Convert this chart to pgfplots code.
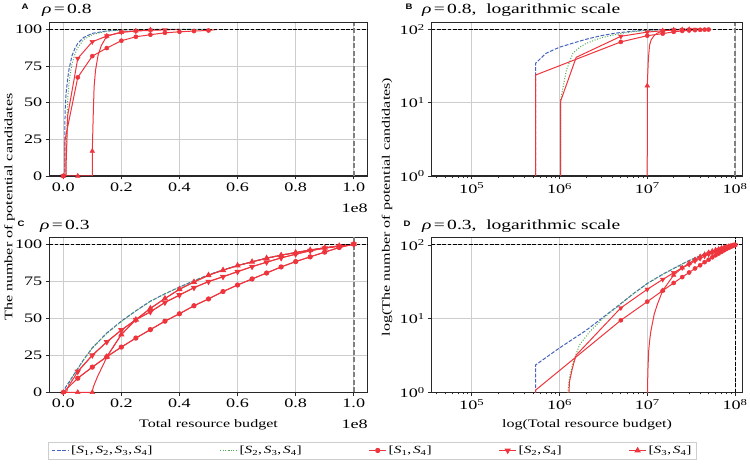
\documentclass[border=0pt]{standalone}
\usepackage{fontspec}
\setmainfont{Liberation Serif}[FakeStretch=1.4]
\newfontfamily\panelfont{Liberation Sans}[FakeStretch=1.2]
\usepackage{pgfplots}
\usepackage{pgfplotstable}
\pgfplotsset{compat=1.18}
\definecolor{cblue}{RGB}{70,100,190}
\definecolor{cgreen}{RGB}{80,170,80}
\definecolor{cred}{RGB}{238,52,60}
\definecolor{cframe}{RGB}{40,40,40}
\definecolor{cgrid}{RGB}{205,205,205}
\definecolor{cvline}{RGB}{128,128,128}
\newcommand\tickfont{\fontsize{13}{13}\selectfont}
\newcommand\labfont{\fontsize{11.5}{11.5}\selectfont}
\newcommand\titfont{\fontsize{14}{14}\selectfont}
\newcommand\legfont{\fontsize{11}{11}\selectfont}

% ================= rho = 0.8 : lines (linear panel) =================
\pgfplotstableread{
x y
0 0
5.34e5 0
5.34e5 34.4
7e5 47
1e6 57
1.5e6 66
2e6 73
3e6 82
4e6 87
5e6 90.5
7e6 94.5
1e7 97.3
1.5e7 99
2e7 99.7
3e7 100
5e7 100
}\EBlue
\pgfplotstableread{
x y
0 0
1.03e6 0
1.03e6 10.9
1.2e6 28
1.42e6 47
1.7e6 57
2e6 64
2.5e6 71
3e6 76.5
4e6 83
5e6 87.5
7e6 93
1e7 96.5
1.5e7 98.8
2e7 99.6
3e7 100
5e7 100
}\EGreen
\pgfplotstableread{
x y
0 0
5.34e5 0
5.34e5 23.8
5e6 67.3
1e7 81.8
1.5e7 87.3
2e7 92.3
2.5e7 95
3e7 96.4
3.5e7 97.7
4e7 98.4
4.5e7 98.9
5e7 99.3
5.3e7 100
}\ESa
\pgfplotstableread{
x y
0 0
1.03e6 0
1.03e6 10.5
1.55e6 41.5
5e6 80.2
1e7 91.6
1.5e7 95.5
2e7 98.2
2.5e7 98.9
3e7 99.4
3.5e7 99.7
4e7 100
}\ESb
\pgfplotstableread{
x y
0 0
5e6 0
9.99e6 0
1e7 17
1.03e7 40
1.063e7 61
1.11e7 72
1.2e7 82.5
1.31e7 89
1.5e7 95.5
2e7 98
2.5e7 99
3e7 99.8
3.5e7 100
}\ESc
% ---- rho = 0.8 : lines (log panel; values below the axis drawn at 0.5) ----
\pgfplotstableread{
x y
5.34e5 0.5
5.34e5 34.4
7e5 47
1e6 57
1.5e6 66
2e6 73
3e6 82
4e6 87
5e6 90.5
7e6 94.5
1e7 97.3
1.5e7 99
2e7 99.7
3e7 100
5e7 100
}\EBlueL
\pgfplotstableread{
x y
1.03e6 0.5
1.03e6 10.9
1.2e6 28
1.42e6 47
1.7e6 57
2e6 64
2.5e6 71
3e6 76.5
4e6 83
5e6 87.5
7e6 93
1e7 96.5
1.5e7 98.8
2e7 99.6
3e7 100
5e7 100
}\EGreenL
\pgfplotstableread{
x y
5.34e5 0.5
5.34e5 23.8
5e6 67.3
1e7 81.8
1.5e7 87.3
2e7 92.3
2.5e7 95
3e7 96.4
3.5e7 97.7
4e7 98.4
4.5e7 98.9
5e7 99.3
5.3e7 100
}\ESaL
\pgfplotstableread{
x y
1.03e6 0.5
1.03e6 10.5
1.55e6 41.5
5e6 80.2
1e7 91.6
1.5e7 95.5
2e7 98.2
2.5e7 98.9
3e7 99.4
3.5e7 99.7
4e7 100
}\ESbL
\pgfplotstableread{
x y
9.99e6 0.5
1e7 17
1.03e7 40
1.063e7 61
1.11e7 72
1.2e7 82.5
1.31e7 89
1.5e7 95.5
2e7 98
2.5e7 99
3e7 99.8
3.5e7 100
}\EScL
% ---- rho = 0.8 : markers (non-zero) ----
\pgfplotstableread{
x y
5e6 67.3
1e7 81.8
1.5e7 87.3
2e7 92.3
2.5e7 95
3e7 96.4
3.5e7 97.7
4e7 98.4
4.5e7 98.9
5e7 99.3
}\ESam
\pgfplotstableread{
x y
5e6 80.2
1e7 91.6
1.5e7 95.5
2e7 98.2
2.5e7 98.9
3e7 99.4
3.5e7 99.7
}\ESbm
\pgfplotstableread{
x y
1e7 17
1.5e7 95.5
2e7 98
2.5e7 99
3e7 99.8
}\EScm

% ================= rho = 0.3 : lines (linear panel) =================
\pgfplotstableread{
x y
0 0
5.34e5 0
5.34e5 2.35
1e6 4
2e6 6.9
3e6 10
5e6 16
7e6 22
1e7 30
1.5e7 40
2e7 48
2.5e7 55
3e7 61.5
3.5e7 66.5
4e7 71
4.5e7 75.3
5e7 79.3
5.5e7 82.6
6e7 85.6
6.5e7 88.1
7e7 90.6
7.5e7 92.6
8e7 94.4
8.5e7 96
9e7 97.5
9.5e7 98.8
1e8 100
}\TBlue
\pgfplotstableread{
x y
0 0
1.17e6 0
1.3e6 1.6
1.42e6 2.5
1.69e6 4.4
2.2e6 6.6
3.1e6 10
5e6 15.8
7e6 21.8
1e7 29.8
1.5e7 39.8
2e7 47.8
2.5e7 54.9
3e7 61.4
3.5e7 66.4
4e7 70.9
4.5e7 75.2
5e7 79.2
5.5e7 82.5
6e7 85.5
6.5e7 88
7e7 90.5
7.5e7 92.5
8e7 94.3
8.5e7 96
9e7 97.5
9.5e7 98.8
1e8 100
}\TGreen
\pgfplotstableread{
x y
0 0
5.34e5 0
5.34e5 1.07
5e6 9.5
1e7 17
1.5e7 24
2e7 30.5
2.5e7 36.6
3e7 42.3
3.5e7 48
4e7 53
4.5e7 58.4
5e7 63
5.5e7 68
6e7 72.4
6.5e7 76.5
7e7 80.5
7.5e7 84.6
8e7 88.2
8.5e7 91.4
9e7 94.6
9.5e7 97.7
1e8 100
}\TSa
\pgfplotstableread{
x y
0 0
1.245e6 0
1.3e6 1.4
1.4e6 2.1
1.49e6 2.75
1.55e6 3.2
5e6 14
1e7 25
1.5e7 34
2e7 42
2.5e7 49
3e7 54.3
3.5e7 60.6
4e7 65.6
4.5e7 70.6
5e7 74.7
5.5e7 78
6e7 81.4
6.5e7 84.8
7e7 87.8
7.5e7 90.7
8e7 93.2
8.5e7 95.5
9e7 97.3
9.5e7 98.6
1e8 100
}\TSb
\pgfplotstableread{
x y
0 0
5e6 0
1e7 0
1.01e7 1.4
1.02e7 2.2
1.04e7 3.8
1.07e7 5.3
1.1e7 6.8
1.2e7 11.5
1.3e7 15.5
1.4e7 19.5
1.5e7 24
2e7 39
2.5e7 49
3e7 56.6
3.5e7 63.3
4e7 69.5
4.5e7 74.4
5e7 79
5.5e7 82.4
6e7 85.5
6.5e7 88
7e7 90.5
7.5e7 92.5
8e7 94.3
8.5e7 96
9e7 97.5
9.5e7 98.8
1e8 100
}\TSc
% ---- rho = 0.3 : lines (log panel) ----
\pgfplotstableread{
x y
5.34e5 0.5
5.34e5 2.35
1e6 4
2e6 6.9
3e6 10
5e6 16
7e6 22
1e7 30
1.5e7 40
2e7 48
2.5e7 55
3e7 61.5
3.5e7 66.5
4e7 71
4.5e7 75.3
5e7 79.3
5.5e7 82.6
6e7 85.6
6.5e7 88.1
7e7 90.6
7.5e7 92.6
8e7 94.4
8.5e7 96
9e7 97.5
9.5e7 98.8
1e8 100
}\TBlueL
\pgfplotstableread{
x y
1.17e6 0.5
1.3e6 1.6
1.42e6 2.5
1.69e6 4.4
2.2e6 6.6
3.1e6 10
5e6 15.8
7e6 21.8
1e7 29.8
1.5e7 39.8
2e7 47.8
2.5e7 54.9
3e7 61.4
3.5e7 66.4
4e7 70.9
4.5e7 75.2
5e7 79.2
5.5e7 82.5
6e7 85.5
6.5e7 88
7e7 90.5
7.5e7 92.5
8e7 94.3
8.5e7 96
9e7 97.5
9.5e7 98.8
1e8 100
}\TGreenL
\pgfplotstableread{
x y
5.34e5 0.5
5.34e5 1.07
5e6 9.5
1e7 17
1.5e7 24
2e7 30.5
2.5e7 36.6
3e7 42.3
3.5e7 48
4e7 53
4.5e7 58.4
5e7 63
5.5e7 68
6e7 72.4
6.5e7 76.5
7e7 80.5
7.5e7 84.6
8e7 88.2
8.5e7 91.4
9e7 94.6
9.5e7 97.7
1e8 100
}\TSaL
\pgfplotstableread{
x y
1.245e6 0.5
1.3e6 1.4
1.4e6 2.1
1.49e6 2.75
1.55e6 3.2
5e6 14
1e7 25
1.5e7 34
2e7 42
2.5e7 49
3e7 54.3
3.5e7 60.6
4e7 65.6
4.5e7 70.6
5e7 74.7
5.5e7 78
6e7 81.4
6.5e7 84.8
7e7 87.8
7.5e7 90.7
8e7 93.2
8.5e7 95.5
9e7 97.3
9.5e7 98.6
1e8 100
}\TSbL
\pgfplotstableread{
x y
1e7 0.5
1.01e7 1.4
1.02e7 2.2
1.04e7 3.8
1.07e7 5.3
1.1e7 6.8
1.2e7 11.5
1.3e7 15.5
1.4e7 19.5
1.5e7 24
2e7 39
2.5e7 49
3e7 56.6
3.5e7 63.3
4e7 69.5
4.5e7 74.4
5e7 79
5.5e7 82.4
6e7 85.5
6.5e7 88
7e7 90.5
7.5e7 92.5
8e7 94.3
8.5e7 96
9e7 97.5
9.5e7 98.8
1e8 100
}\TScL
% ---- rho = 0.3 : markers (non-zero) ----
\pgfplotstableread{
x y
5e6 9.5
1e7 17
1.5e7 24
2e7 30.5
2.5e7 36.6
3e7 42.3
3.5e7 48
4e7 53
4.5e7 58.4
5e7 63
5.5e7 68
6e7 72.4
6.5e7 76.5
7e7 80.5
7.5e7 84.6
8e7 88.2
8.5e7 91.4
9e7 94.6
9.5e7 97.7
1e8 100
}\TSam
\pgfplotstableread{
x y
5e6 14
1e7 25
1.5e7 34
2e7 42
2.5e7 49
3e7 54.3
3.5e7 60.6
4e7 65.6
4.5e7 70.6
5e7 74.7
5.5e7 78
6e7 81.4
6.5e7 84.8
7e7 87.8
7.5e7 90.7
8e7 93.2
8.5e7 95.5
9e7 97.3
9.5e7 98.6
1e8 100
}\TSbm
\pgfplotstableread{
x y
1.5e7 24
2e7 39
2.5e7 49
3e7 56.6
3.5e7 63.3
4e7 69.5
4.5e7 74.4
5e7 79
5.5e7 82.4
6e7 85.5
6.5e7 88
7e7 90.5
7.5e7 92.5
8e7 94.3
8.5e7 96
9e7 97.5
9.5e7 98.8
1e8 100
}\TScm

\pgfplotsset{
  panel/.style={
    scale only axis, clip=true,
    axis line style={cframe, line width=1.1bp},
    tick align=outside, tick pos=left,
    major tick length=3.5bp, minor tick length=2bp,
    every tick/.style={cframe, line width=0.8bp},
    grid=major, major grid style={cgrid, line width=0.9bp},
    tick label style={font=\tickfont},
    /pgf/number format/assume math mode=true,
  },
  linpanel/.style={panel, xmin=-4.8e6, xmax=1.048e8, ymin=0, ymax=104.6,
    scaled x ticks=false, scaled y ticks=false,
    xtick={0,2e7,4e7,6e7,8e7,1e8}, xticklabels={0.0,0.2,0.4,0.6,0.8,1.0},
    ytick={0,25,50,75,100}, yticklabels={0,25,50,75,100}},
  logpanel/.style={panel, xmin=3.5e4, xmax=1.21e8, ymin=1,
    xtick={1e5,1e6,1e7,1e8},
    xticklabels={10\textsuperscript{5},10\textsuperscript{6},10\textsuperscript{7},10\textsuperscript{8}},
    minor xtick={4e4,5e4,6e4,7e4,8e4,9e4,2e5,3e5,4e5,5e5,6e5,7e5,8e5,9e5,2e6,3e6,4e6,5e6,6e6,7e6,8e6,9e6,2e7,3e7,4e7,5e7,6e7,7e7,8e7,9e7},
    ytick={1,10,100}, yminorticks=false,
    yticklabels={10\textsuperscript{0},10\textsuperscript{1},10\textsuperscript{2}}},
  sblue/.style={color=cblue, line width=1bp, dash pattern=on 3.7bp off 1.6bp},
  sgreen/.style={color=cgreen, line width=1bp, dash pattern=on 1bp off 1.65bp},
  sred/.style={color=cred, line width=1bp},
  mcirc/.style={only marks, mark=*, mark size=2.1bp, color=cred},
  mdown/.style={only marks, mark=triangle*, mark size=2.7bp, mark options={rotate=180}, color=cred},
  mup/.style={only marks, mark=triangle*, mark size=2.7bp, color=cred},
  hundred/.style={color=black, line width=0.9bp, dash pattern=on 3.7bp off 1.6bp},
  vgrey/.style={color=cvline, line width=1.8bp, dash pattern=on 5bp off 2.5bp},
}

\begin{document}
\begin{tikzpicture}
\path[use as bounding box] (0bp,0bp) rectangle (750bp,466bp);

% ===== A =====
\begin{axis}[linpanel, at={(49.3bp,290bp)}, anchor=south west, width=318.4bp, height=153.3bp]
\addplot[sblue] table[x=x,y=y] {\EBlue};
\addplot[sgreen] table[x=x,y=y] {\EGreen};
\addplot[sred] table[x=x,y=y] {\ESa};
\addplot[mcirc] table[x=x,y=y] {\ESam};
\addplot[mcirc] coordinates {(0,0)};
\addplot[sred] table[x=x,y=y] {\ESb};
\addplot[mdown] table[x=x,y=y] {\ESbm};
\addplot[mdown] coordinates {(0,0)};
\addplot[sred] table[x=x,y=y] {\ESc};
\addplot[mup] table[x=x,y=y] {\EScm};
\addplot[mup] coordinates {(0,0) (5e6,0)};
\addplot[hundred] coordinates {(-4.8e6,100) (1.048e8,100)};
\addplot[vgrey] coordinates {(1e8,0) (1e8,104.6)};
\end{axis}

% ===== B =====
\begin{loglogaxis}[logpanel, ymax=123, at={(431.7bp,290bp)}, anchor=south west, width=310.6bp, height=153.3bp]
\addplot[sblue] table[x=x,y=y] {\EBlueL};
\addplot[sgreen] table[x=x,y=y] {\EGreenL};
\addplot[sred] table[x=x,y=y] {\ESaL};
\addplot[mcirc] table[x=x,y=y] {\ESam};
\addplot[sred] table[x=x,y=y] {\ESbL};
\addplot[mdown] table[x=x,y=y] {\ESbm};
\addplot[sred] table[x=x,y=y] {\EScL};
\addplot[mup] table[x=x,y=y] {\EScm};
\addplot[hundred] coordinates {(3.5e4,100) (1.21e8,100)};
\addplot[vgrey] coordinates {(1e8,1) (1e8,123)};
\end{loglogaxis}

% ===== C =====
\begin{axis}[linpanel, at={(49.3bp,73.7bp)}, anchor=south west, width=318.4bp, height=155bp,
  legend columns=5,
  legend style={at={(-0.004,-0.319)}, anchor=north west, draw=cgrid, font=\legfont,
    /tikz/every even column/.append style={column sep=65bp}},
  ]
\addplot[sblue] table[x=x,y=y] {\TBlue};
\addlegendentry{[\textit{S}\textsubscript{1},\,\textit{S}\textsubscript{2},\,\textit{S}\textsubscript{3},\,\textit{S}\textsubscript{4}]}
\addplot[sgreen] table[x=x,y=y] {\TGreen};
\addlegendentry{[\textit{S}\textsubscript{2},\,\textit{S}\textsubscript{3},\,\textit{S}\textsubscript{4}]}
\addplot[sred, forget plot] table[x=x,y=y] {\TSa};
\addplot[color=cred, line width=1bp, mark=*, mark size=2.1bp] table[x=x,y=y] {\TSam};
\addlegendentry{[\textit{S}\textsubscript{1},\,\textit{S}\textsubscript{4}]}
\addplot[mcirc, forget plot] coordinates {(0,0)};
\addplot[sred, forget plot] table[x=x,y=y] {\TSb};
\addplot[color=cred, line width=1bp, mark=triangle*, mark size=2.7bp, mark options={rotate=180}] table[x=x,y=y] {\TSbm};
\addlegendentry{[\textit{S}\textsubscript{2},\,\textit{S}\textsubscript{4}]}
\addplot[mdown, forget plot] coordinates {(0,0)};
\addplot[sred, forget plot] table[x=x,y=y] {\TSc};
\addplot[color=cred, line width=1bp, mark=triangle*, mark size=2.7bp] table[x=x,y=y] {\TScm};
\addlegendentry{[\textit{S}\textsubscript{3},\,\textit{S}\textsubscript{4}]}
\addplot[mup, forget plot] coordinates {(0,0) (5e6,0) (1e7,0)};
\addplot[hundred, forget plot] coordinates {(-4.8e6,100) (1.048e8,100)};
\addplot[vgrey, forget plot] coordinates {(1e8,0) (1e8,104.6)};
\end{axis}

% ===== D =====
\begin{loglogaxis}[logpanel, ymax=127, at={(431.7bp,73.7bp)}, anchor=south west, width=310.6bp, height=155bp]
\addplot[sblue] table[x=x,y=y] {\TBlueL};
\addplot[sgreen] table[x=x,y=y] {\TGreenL};
\addplot[sred] table[x=x,y=y] {\TSaL};
\addplot[mcirc] table[x=x,y=y] {\TSam};
\addplot[sred] table[x=x,y=y] {\TSbL};
\addplot[mdown] table[x=x,y=y] {\TSbm};
\addplot[sred] table[x=x,y=y] {\TScL};
\addplot[mup] table[x=x,y=y] {\TScm};
\addplot[hundred] coordinates {(3.5e4,100) (1.21e8,100)};
\addplot[color=black, line width=0.9bp, dash pattern=on 3.7bp off 1.6bp] coordinates {(1e8,1) (1e8,127)};
\end{loglogaxis}

% ===== texts =====
\node[anchor=base west, font=\panelfont\bfseries\fontsize{8}{8}\selectfont] at (18bp,456bp) {A};
\node[anchor=base west, font=\panelfont\bfseries\fontsize{8}{8}\selectfont] at (402bp,456bp) {B};
\node[anchor=base west, font=\panelfont\bfseries\fontsize{8}{8}\selectfont] at (14bp,239bp) {C};
\node[anchor=base west, font=\panelfont\bfseries\fontsize{8}{8}\selectfont] at (400bp,239bp) {D};
\node[anchor=base west, font=\titfont, inner sep=0] at (42bp,452.7bp) {\textit{ρ}\,=\,0.8};
\node[anchor=base west, font=\titfont, inner sep=0] at (422bp,452.7bp) {\textit{ρ}\,=\,0.8,\ \ logarithmic scale};
\node[anchor=base west, font=\titfont, inner sep=0] at (40bp,236.7bp) {\textit{ρ}\,=\,0.3};
\node[anchor=base west, font=\titfont, inner sep=0] at (422bp,236.7bp) {\textit{ρ}\,=\,0.3,\ \ logarithmic scale};
\node[anchor=base east, font=\tickfont, inner sep=0] at (368bp,253bp) {1e8};
\node[anchor=base east, font=\tickfont, inner sep=0] at (368bp,37.5bp) {1e8};
\node[anchor=base, font=\labfont, inner sep=0] at (208.5bp,38.5bp) {Total resource budget};
\node[anchor=base, font=\labfont, inner sep=0] at (587bp,38.5bp) {log(Total resource budget)};
\node[rotate=90, font=\labfont, inner sep=0] at (9.5bp,259bp) {The number of potential candidates};
\node[rotate=90, font=\labfont, inner sep=0] at (387bp,259bp) {log(The number of potential candidates)};
\end{tikzpicture}
\end{document}
